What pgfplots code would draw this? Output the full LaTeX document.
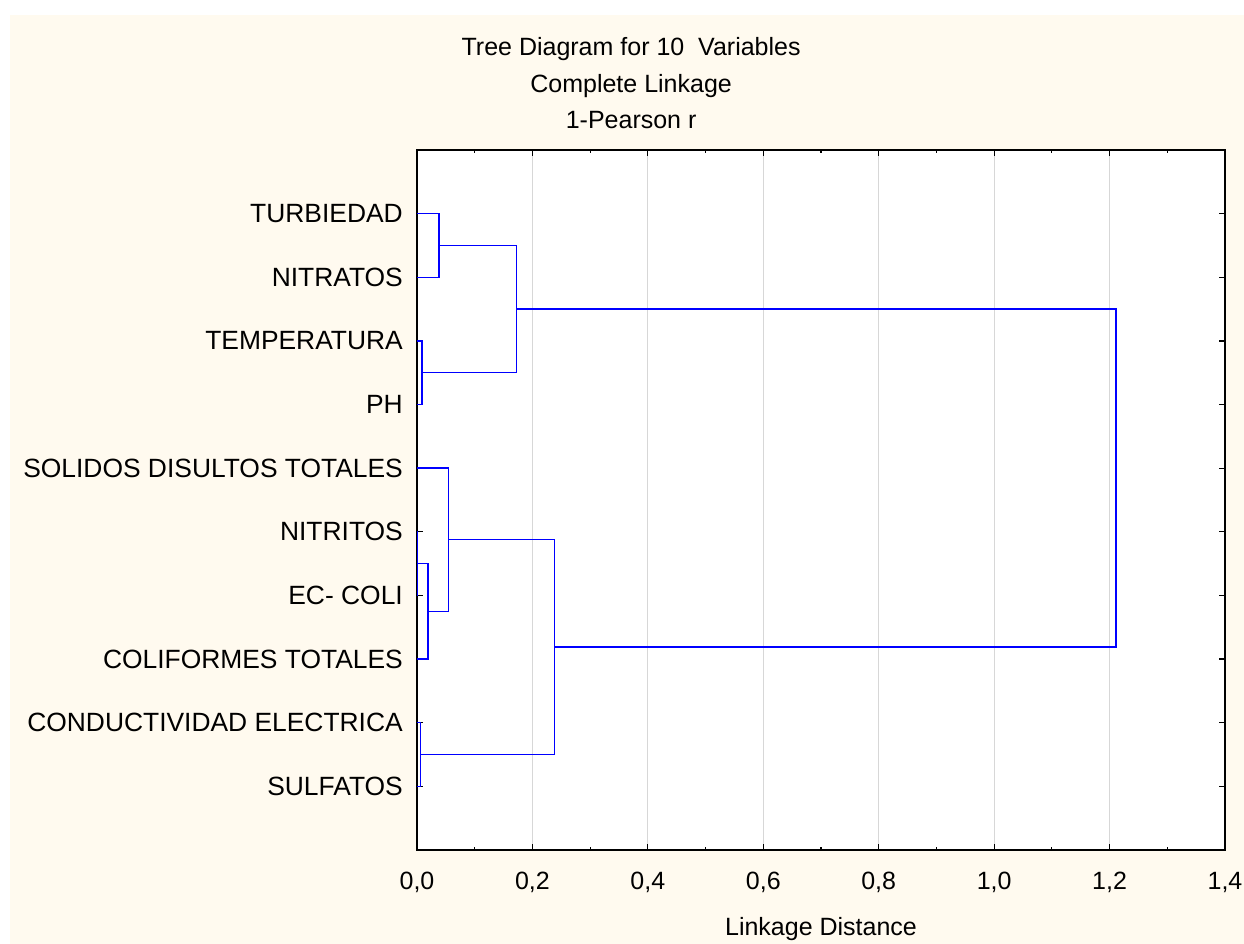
\documentclass[border=0pt]{standalone}
\usepackage{pgfplots}
\pgfplotsset{compat=1.18}
\usepackage{fontspec}
\setmainfont{Liberation Sans}
\definecolor{cream}{RGB}{255,250,239}
\definecolor{dblue}{RGB}{0,0,255}
\definecolor{gridgray}{RGB}{215,215,215}
\begin{document}
\fontsize{25bp}{30bp}\selectfont
\begin{tikzpicture}
\useasboundingbox (-417bp,-94bp) rectangle (827bp,850bp);
\fill[white] (-417bp,-94bp) rectangle (827bp,850bp);
\fill[cream] (-407bp,-94bp) rectangle (827bp,835bp);
\begin{axis}[
  at={(0,0)}, anchor=south west,
  scale only axis, width=808bp, height=700bp,
  xmin=0, xmax=1.4, ymin=0, ymax=11,
  axis background/.style={fill=white},
  xtick={0,0.2,0.4,0.6,0.8,1.0,1.2,1.4},
  minor x tick num=1,
  ytick={1,2,3,4,5,6,7,8,9,10},
  yticklabels={SULFATOS,CONDUCTIVIDAD ELECTRICA,COLIFORMES TOTALES,EC- COLI,NITRITOS,SOLIDOS DISULTOS TOTALES,PH,TEMPERATURA,NITRATOS,TURBIEDAD},
  /pgf/number format/use comma,
  /pgf/number format/fixed,
  /pgf/number format/fixed zerofill,
  /pgf/number format/precision=1,
  /pgf/number format/assume math mode=true,
  tick label style={font=\fontsize{25bp}{30bp}\selectfont},
  label style={font=\fontsize{25bp}{30bp}\selectfont},
  xticklabel style={anchor=north, inner sep=0pt, yshift=-22bp},
  yticklabel style={anchor=east, inner sep=0pt, xshift=-14bp, font=\fontsize{26.4bp}{30bp}\selectfont},
  tick align=inside,
  major tick length=6bp,
  minor tick length=3bp,
  every tick/.style={black, line width=1.2bp},
  axis line style={black, line width=1.6bp},
  xmajorgrids,
  major grid style={gridgray, line width=1bp},
  xlabel={Linkage Distance},
  xlabel style={at={(rel axis cs:0.5,0)}, anchor=base, yshift=-85bp, inner sep=0pt},
  clip=false,
]
% TURBIEDAD + NITRATOS
\addplot[dblue, line width=1.4bp] coordinates {(0,10) (0.038,10) (0.038,9) (0,9)};
% TEMPERATURA + PH
\addplot[dblue, line width=1.4bp] coordinates {(0,8) (0.009,8) (0.009,7) (0,7)};
% (TURB,NIT) + (TEMP,PH)
\addplot[dblue, line width=1.4bp] coordinates {(0.038,9.5) (0.172,9.5) (0.172,7.5) (0.009,7.5)};
% NITRITOS + EC- COLI
\addplot[dblue, line width=1.4bp] coordinates {(0,5) (0.001,5) (0.001,4) (0,4)};
% (NITRITOS,EC) + COLIFORMES
\addplot[dblue, line width=1.4bp] coordinates {(0.001,4.5) (0.019,4.5) (0.019,3) (0,3)};
% SOLIDOS + previous
\addplot[dblue, line width=1.4bp] coordinates {(0,6) (0.055,6) (0.055,3.75) (0.019,3.75)};
% CONDUCTIVIDAD + SULFATOS
\addplot[dblue, line width=1.4bp] coordinates {(0,2) (0.006,2) (0.006,1) (0,1)};
% group + (COND,SULF)
\addplot[dblue, line width=1.4bp] coordinates {(0.055,4.875) (0.238,4.875) (0.238,1.5) (0.006,1.5)};
% top
\addplot[dblue, line width=1.4bp] coordinates {(0.172,8.5) (1.211,8.5) (1.211,3.1875) (0.238,3.1875)};
\node[anchor=base, inner sep=0pt] at (rel axis cs:0.265,1) [yshift=94bp] {Tree Diagram for 10 \ Variables};
\node[anchor=base, inner sep=0pt] at (rel axis cs:0.265,1) [yshift=57.5bp] {Complete Linkage};
\node[anchor=base, inner sep=0pt] at (rel axis cs:0.265,1) [yshift=21bp] {1-Pearson r};
\end{axis}
\end{tikzpicture}
\end{document}
